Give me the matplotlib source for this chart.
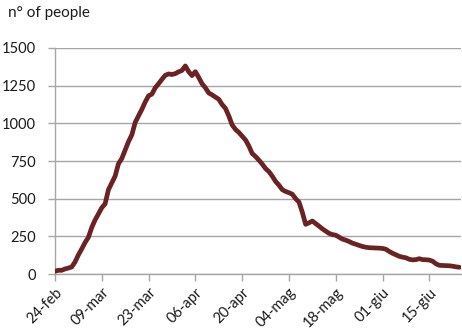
import matplotlib
matplotlib.use("Agg")
import matplotlib.pyplot as plt

# Daily count of people, from 24 Feb to 24 Jun
people = [
    19, 25, 25, 34, 40, 47, 80, 127, 167, 209,
    244, 309, 359, 399, 440, 466, 560, 605, 650, 732,
    767, 823, 879, 924, 1006, 1050, 1093, 1142, 1183, 1194,
    1236, 1263, 1292, 1319, 1328, 1324, 1330, 1342, 1351, 1381,
    1343, 1317, 1343, 1305, 1263, 1236, 1202, 1189, 1174, 1160,
    1125, 1100, 1050, 990, 960, 940, 915, 890, 850, 800,
    780, 756, 730, 700, 680, 650, 615, 590, 560, 548,
    540, 530, 500, 478, 410, 330, 340, 352, 335, 318,
    300, 285, 270, 262, 258, 245, 232, 225, 216, 205,
    198, 190, 183, 178, 175, 174, 173, 172, 170, 165,
    150, 138, 128, 118, 112, 108, 98, 94, 96, 102,
    96, 95, 93, 85, 68, 58, 57, 56, 55, 52,
    48, 45,
]

tick_labels = ["24-feb", "09-mar", "23-mar", "06-apr", "20-apr",
               "04-mag", "18-mag", "01-giu", "15-giu"]
y_ticks = [0, 250, 500, 750, 1000, 1250, 1500]

plt.rcParams["font.family"] = ["Lato", "DejaVu Sans"]

fig = plt.figure(figsize=(4.62, 3.31), dpi=100)
ax = fig.add_axes([0.119, 0.172, 0.879, 0.683])

days = list(range(len(people)))
ax.plot(days, people, color="#6b2222", linewidth=3.4,
        solid_joinstyle="round", solid_capstyle="round", zorder=3)

ax.set_ylim(0, 1500)
ax.set_xlim(0, 121.5)
ax.set_yticks(y_ticks)
ax.set_yticklabels([str(v) for v in y_ticks], fontsize=10.5, color="#1a1a1a")
ax.yaxis.grid(True, color="#a6a6a6", linewidth=1.0)
ax.set_axisbelow(True)

ax.set_xticks([14 * i for i in range(len(tick_labels))])
ax.set_xticklabels(tick_labels, fontsize=10.5, rotation=45, ha="right",
                   rotation_mode="anchor", color="#1a1a1a")

for side in ("top", "right"):
    ax.spines[side].set_visible(False)
for side in ("left", "bottom"):
    ax.spines[side].set_color("#a6a6a6")
    ax.spines[side].set_linewidth(1.0)

ax.tick_params(axis="y", length=5, width=1.0, color="#a6a6a6", pad=9)
ax.tick_params(axis="x", length=5, width=1.0, color="#a6a6a6", pad=3)

fig.text(0.017, 0.96, "n° of people", fontsize=11, color="#1a1a1a",
         ha="left", va="center")

fig.savefig("out.png", dpi=100, facecolor="white")
